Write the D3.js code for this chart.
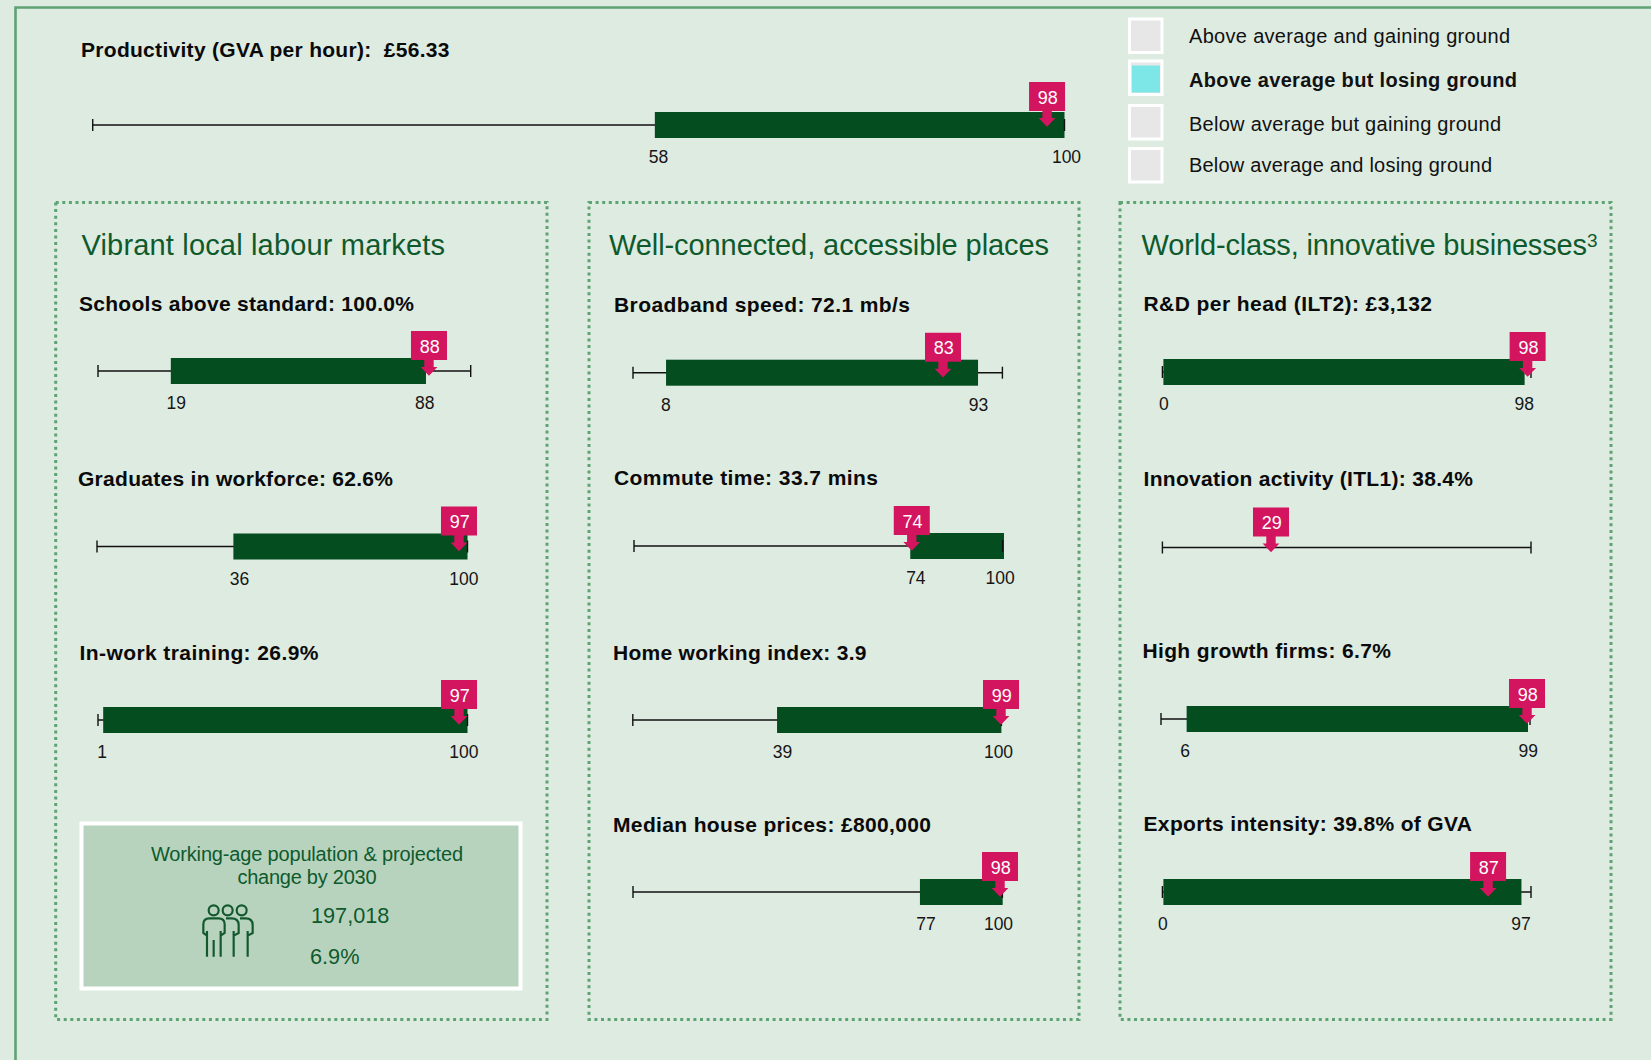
<!DOCTYPE html>
<html><head><meta charset="utf-8">
<script src="https://cdn.jsdelivr.net/npm/d3@7"></script>
<style>
html,body{margin:0;padding:0;background:#deebe1;overflow:hidden}
text{font-family:"Liberation Sans",Arial,sans-serif}
</style></head><body><svg id="c" width="1651" height="1060"></svg>
<script>
// ---- data ----
const metricTitles = ["Productivity (GVA per hour):  £56.33","Schools above standard: 100.0%","Graduates in workforce: 62.6%","In-work training: 26.9%","Broadband speed: 72.1 mb/s","Commute time: 33.7 mins","Home working index: 3.9","Median house prices: £800,000","R&D per head (ILT2): £3,132","Innovation activity (ITL1): 38.4%","High growth firms: 6.7%","Exports intensity: 39.8% of GVA"];
const lowValues  = [58,19,36,1,8,74,39,77,0,null,6,0];
const highValues = [100,88,100,100,93,100,100,100,98,null,99,97];
const rankValues = [98,88,97,97,83,74,99,98,98,29,98,87];
const panelTitles = ["Vibrant local labour markets","Well-connected, accessible places","World-class, innovative businesses"];
const legendLabels = ["Above average and gaining ground","Above average but losing ground","Below average but gaining ground","Below average and losing ground"];
const activeLegend = 1;
const populationTitle = ["Working-age population & projected","change by 2030"];
const populationValues = ["197,018","6.9%"];

// ---- layout (pixels) ----
const axisLeft  = [92.7,98,97,98,633,634,632.8,633,1162.4,1162.4,1161,1162.4];
const axisRight = [1064.5,470.7,467.5,467.5,1002.4,1002.6,1001.4,1002.4,1531,1531,1530,1531];
const axisY     = [125,371,546.5,720,372.7,546,720,892,372,547.5,719,892];
const titleX    = [81,79,78,79.5,614,614,613,613,1143.5,1143.5,1142.4,1143.5];
const titleY    = [57,311,486,660,312,485,660,832,311,486,658,831];
const titleW    = [368.5,335,315,239,296,264,253.5,318,288.5,329.5,248.6,328.5];
const lowDx     = [1.7,7,8.6,0,2.8,8.6,5.4,8,1,0,1.5,0];
const highDx    = [1.5,-1.7,-4.2,-4.2,1.5,-2.9,-3.4,-4.4,0,0,1.5,.5];
const barLowDx  = [-1.5,2,3,1.5,3.5,3.5,.5,2.5,1,0,3.5,1];
const barHighDx = [0,0,0,0,1.5,1.4,0,.3,1,0,1.7,1.5];
const markerDx  = [2,3,2.6,2.6,3.4,5,3.3,5,4,1.7,4.4,5];
const markerDy  = [-3,0,0,0,0,0,0,0,0,0,0,0];

const BG="#deebe1", GREEN="#034d1f", TEXTG="#0e5a2d", PINK="#d3145f", DOT="#5ea374";
const svg=d3.select("#c");
svg.append("rect").attr("width",1651).attr("height",1060).attr("fill",BG);
// outer frame
svg.append("path").attr("d","M15.5,1060V7.5H1651").attr("fill","none").attr("stroke",DOT).attr("stroke-width",2.6);

// panels
const panelX=[[55.7,547],[589,1079],[1120,1611]], panelTitleX=[81.5,609,1141.5], panelTitleW=[363.5,440,445.5];
panelX.forEach((p,i)=>{
  svg.append("rect").attr("x",p[0]).attr("y",202.5).attr("width",p[1]-p[0]).attr("height",817)
    .attr("fill","none").attr("stroke",DOT).attr("stroke-width",3).attr("stroke-dasharray","3 3.6");
  svg.append("text").attr("x",panelTitleX[i]).attr("y",254.8).attr("font-size",29).attr("fill",TEXTG)
    .attr("textLength",panelTitleW[i]).attr("lengthAdjust","spacing").text(panelTitles[i]);
});
svg.append("text").attr("x",1587).attr("y",247).attr("font-size",19).attr("fill",TEXTG).text("3");

// legend
const legendY=[19,61,105.5,148.5], legendTextY=[43,87,131,172], legendTextW=[321,328,312,303];
legendLabels.forEach((l,i)=>{
  svg.append("rect").attr("x",1129.5).attr("y",legendY[i]).attr("width",32.5).attr("height",33.5)
    .attr("fill","#e7e7e7").attr("stroke","#fff").attr("stroke-width",3);
  if(i===activeLegend) svg.append("rect").attr("x",1132).attr("y",legendY[i]+4.5).attr("width",28).attr("height",27).attr("fill","#7de6e6");
  svg.append("text").attr("x",1189).attr("y",legendTextY[i]).attr("font-size",20)
    .attr("font-weight",i===activeLegend?"bold":"normal").attr("fill","#111")
    .attr("textLength",legendTextW[i]).attr("lengthAdjust","spacing").text(l);
});

// metric charts
metricTitles.forEach((t,i)=>{
  const y=axisY[i];
  const g=svg.append("g");
  g.append("text").attr("x",titleX[i]).attr("y",titleY[i]).attr("font-size",21).attr("font-weight","bold").attr("fill","#0a0a0a")
    .attr("textLength",titleW[i]).attr("lengthAdjust","spacing").attr("xml:space","preserve").text(t);
  const x=d3.scaleLinear().domain([0,100]).range([axisLeft[i],axisRight[i]]);
  g.append("line").attr("x1",x(0)).attr("x2",x(100)).attr("y1",y).attr("y2",y).attr("stroke","#111").attr("stroke-width",1.5);
  if(lowValues[i]!==null){
    g.append("rect").attr("x",x(lowValues[i])+barLowDx[i]).attr("y",y-13).attr("height",26)
      .attr("width",x(highValues[i])+barHighDx[i]-x(lowValues[i])-barLowDx[i]).attr("fill",GREEN);
    const ax=d3.axisBottom(x).tickValues([lowValues[i],highValues[i]]).tickSize(0).tickPadding(0).tickFormat(d3.format("d"));
    const ag=g.append("g").attr("transform",`translate(0,${y+23})`).call(ax);
    ag.select(".domain").remove();
    ag.selectAll(".tick text").attr("font-family",'"Liberation Sans"').attr("font-size",17.5).attr("fill","#161616").attr("dy",0).attr("y",15.3)
      .attr("dx",(d,k)=>k===0?lowDx[i]:highDx[i]);
  }
  [0,100].forEach(v=>g.append("line").attr("x1",x(v)).attr("x2",x(v)).attr("y1",y-6).attr("y2",y+6).attr("stroke","#111").attr("stroke-width",1.4));
  // rank marker
  const mx=x(rankValues[i])+markerDx[i], my=y+markerDy[i];
  g.append("path").attr("fill",PINK)
    .attr("d",`M${mx-18},${my-40}h36v29h-13.3v7h3.7l-8.4,8.7l-8.4,-8.7h3.7v-7h-13.3z`);
  g.append("text").attr("x",mx+.8).attr("y",my-18.5).attr("text-anchor","middle").attr("font-size",18).attr("fill","#fff").text(rankValues[i]);
});

// population box
svg.append("rect").attr("x",81.5).attr("y",823.5).attr("width",439).attr("height",165).attr("fill","#b7d3bd").attr("stroke","#fff").attr("stroke-width",4);
const popTitleW=[312,139];
populationTitle.forEach((t,i)=>svg.append("text").attr("x",307).attr("y",[861,884][i]).attr("text-anchor","middle").attr("font-size",20).attr("fill",TEXTG)
  .attr("textLength",popTitleW[i]).attr("lengthAdjust","spacing").text(t));
populationValues.forEach((t,i)=>svg.append("text").attr("x",[311,310][i]).attr("y",[923,964][i]).attr("font-size",21.7).attr("fill",TEXTG).text(t));
const icon=svg.append("g").attr("transform","translate(190,895) scale(0.3333)").attr("fill","none").attr("stroke","#14582e").attr("stroke-width",6.5);
[71,113,155].forEach(cx=>icon.append("circle").attr("cx",cx).attr("cy",46).attr("r",15));
["M51 185V108M92 185V108M71 185V135M51 122L40 114V88Q40 70 58 70H85Q104 70 104 88V114L92 122",
 "M108 70H125Q146 70 146 90V114L131 122M131 185V108",
 "M150 70H167Q188 70 188 90V114L173 122M173 185V108"].forEach(d=>icon.append("path").attr("d",d));
</script></body></html>
